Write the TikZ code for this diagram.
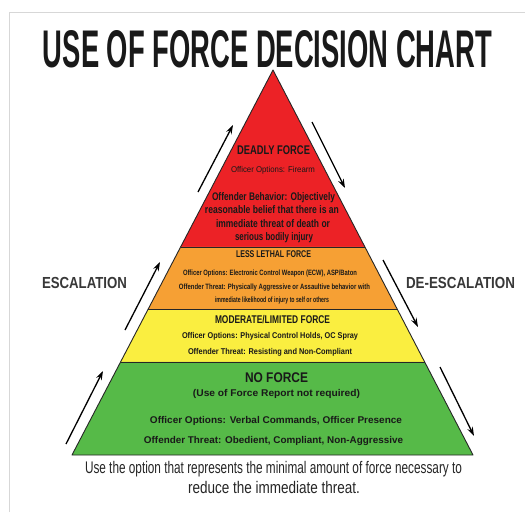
\documentclass[tikz,border=0pt]{standalone}
\usepackage{fontspec}
\usepackage{graphicx}
\setmainfont{Liberation Sans}
\usetikzlibrary{arrows.meta,calc}
\definecolor{pred}{RGB}{236,34,38}
\definecolor{porange}{RGB}{246,160,52}
\definecolor{pyellow}{RGB}{250,238,64}
\definecolor{pgreen}{RGB}{86,186,72}
\definecolor{frame}{RGB}{215,215,215}
\newcommand\fitln[3]{\resizebox{#1pt}{\height}{\fontsize{#2pt}{#2pt}\selectfont #3}}
\begin{document}
\begin{tikzpicture}[x=1pt,y=-1pt,
  lbl/.style={inner sep=0pt,anchor=base,font=\bfseries,text=black!90},
  plain/.style={inner sep=0pt,anchor=base,text=black!85},
  side/.style={inner sep=0pt,anchor=base,font=\bfseries,text=black!78},
  arr/.style={line width=1.3pt,-{Stealth[length=9pt,width=6pt]}},
  edge/.style={draw=black!85,line width=0.9pt}]
\useasboundingbox (0,0) rectangle (525,512);
\fill[white] (0,0) rectangle (525,512);
\draw[frame,line width=1pt] (9.5,512) -- (9.5,12) -- (525,12);
% pyramid geometry
\coordinate (A) at (273,70);
\coordinate (BL) at (72,455);
\coordinate (BR) at (473,455);
\coordinate (L1) at ($(A)!0.4597!(BL)$);
\coordinate (R1) at ($(A)!0.4597!(BR)$);
\coordinate (L2) at ($(A)!0.6208!(BL)$);
\coordinate (R2) at ($(A)!0.6208!(BR)$);
\coordinate (L3) at ($(A)!0.7584!(BL)$);
\coordinate (R3) at ($(A)!0.7584!(BR)$);
\fill[pred] (A) -- (R1) -- (L1) -- cycle;
\fill[porange] (L1) -- (R1) -- (R2) -- (L2) -- cycle;
\fill[pyellow] (L2) -- (R2) -- (R3) -- (L3) -- cycle;
\fill[pgreen] (L3) -- (R3) -- (BR) -- (BL) -- cycle;
\draw[edge] (L1) -- (R1) (L2) -- (R2) (L3) -- (R3);
\draw[edge,line join=round] (A) -- (BR) -- (BL) -- cycle;
% title
\node[lbl] (title) at (267.5,67) {\fitln{449}{53}{USE OF FORCE DECISION CHART}};
% red band
\node[lbl] (d1) at (273.5,154.5) {\fitln{73}{12.6}{DEADLY FORCE}};
\node[lbl] (d2) at (273,172) {\fitln{84}{8.4}{\mdseries Officer Options: Firearm}};
\node[lbl] (d3) at (273.5,200) {\fitln{123}{11}{Offender Behavior: Objectively}};
\node[lbl] (d4) at (272,213.5) {\fitln{134}{11}{reasonable belief that there is an}};
\node[lbl] (d5) at (273,227) {\fitln{114}{11}{immediate threat of death or}};
\node[lbl] (d6) at (274,240.5) {\fitln{78}{11}{serious bodily injury}};
% orange band
\node[lbl] (o1) at (273.5,257.5) {\fitln{75}{9.8}{LESS LETHAL FORCE}};
\node[lbl] (o2) at (270,275) {\fitln{174}{7.7}{Officer Options: Electronic Control Weapon (ECW), ASP/Baton}};
\node[lbl] (o3) at (274.5,289) {\fitln{191}{7.7}{Offender Threat: Physically Aggressive or Assaultive behavior with}};
\node[lbl] (o4) at (272,302) {\fitln{114}{7.7}{immediate likelihood of injury to self or others}};
% yellow band
\node[lbl] (y1) at (272.5,323) {\fitln{115}{11.2}{MODERATE/LIMITED FORCE}};
\node[lbl] (y2) at (270,338.5) {\fitln{176}{8.4}{Officer Options: Physical Control Holds, OC Spray}};
\node[lbl] (y3) at (270,354.5) {\fitln{164}{8.4}{Offender Threat: Resisting and Non-Compliant}};
% green band
\node[lbl] (g1) at (276.5,382) {\fitln{63}{14}{NO FORCE}};
\node[lbl] (g2) at (276.5,396.5) {\fitln{167}{9.8}{(Use of Force Report not required)}};
\node[lbl] (g3) at (276,423.5) {\fitln{252}{9.8}{Officer Options: Verbal Commands, Officer Presence}};
\node[lbl] (g4) at (273.5,443.5) {\fitln{259}{9.8}{Offender Threat: Obedient, Compliant, Non-Aggressive}};
% bottom note
\node[plain] (b1) at (273.5,473) {\fitln{377}{16.8}{Use the option that represents the minimal amount of force necessary to}};
\node[plain] (b2) at (274,493) {\fitln{172}{16.8}{reduce the immediate threat.}};
% side labels
\node[side] (esc) at (84.5,288) {\fitln{85}{16}{ESCALATION}};
\node[side] (desc) at (460.5,288) {\fitln{109}{16}{DE-ESCALATION}};
% arrows
\coordinate (ea1) at (66,444); \coordinate (eb1) at (103,371);
\coordinate (ea2) at (125,330); \coordinate (eb2) at (160,262);
\coordinate (ea3) at (198,192); \coordinate (eb3) at (233,125);
\coordinate (da1) at (312,122); \coordinate (db1) at (345,188);
\coordinate (da2) at (383,260); \coordinate (db2) at (418,327);
\coordinate (da3) at (440,367); \coordinate (db3) at (474,436);
\draw[arr] (ea1) -- (eb1);
\draw[arr] (ea2) -- (eb2);
\draw[arr] (ea3) -- (eb3);
\draw[arr] (da1) -- (db1);
\draw[arr] (da2) -- (db2);
\draw[arr] (da3) -- (db3);
\end{tikzpicture}
\end{document}
